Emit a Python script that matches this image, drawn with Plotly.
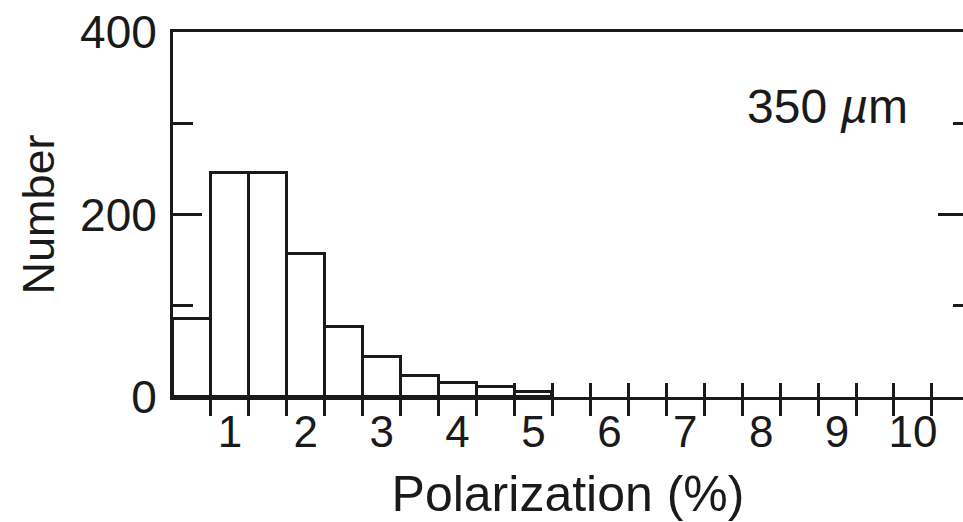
import plotly.graph_objects as go

# Histogram of polarization at 350 µm: bins of width 0.5 %, centred on 0.5, 1.0, ...
bin_centers = [0.5, 1.0, 1.5, 2.0, 2.5, 3.0, 3.5, 4.0, 4.5, 5.0]
counts = [86, 245, 245, 157, 77, 44, 23, 15, 11, 6]
bin_width = 0.5

x_tick_values = [1, 2, 3, 4, 5, 6, 7, 8, 9, 10]
x_tick_labels = ["1", "2", "3", "4", "5", "6", "7", "8", "9", "10"]
bin_edges = [0.75 + 0.5 * i for i in range(20)]

y_major = [0, 200, 400]
y_minor = [100, 300]

FONT = "Liberation Sans"
INK = "#1a1a1a"

fig = go.Figure()
fig.add_trace(go.Bar(
    x=bin_centers, y=counts, width=bin_width,
    marker=dict(color="white", line=dict(color=INK, width=3)),
    showlegend=False, hoverinfo="x+y",
))
# empty trace so the overlaid tick axes (inner x ticks, right-hand y ticks) get drawn
fig.add_trace(go.Scatter(
    x=[None], y=[None], xaxis="x2", yaxis="y2",
    mode="markers", showlegend=False, hoverinfo="skip",
))

x_range = [0.25, 10.66]

fig.update_layout(
    width=963, height=522,
    margin=dict(l=173, r=0, t=32, b=125, autoexpand=False),
    paper_bgcolor="white", plot_bgcolor="white",
    font=dict(family=FONT, size=46, color=INK),
    bargap=0,
    xaxis=dict(
        range=x_range, showgrid=False, zeroline=False, automargin=False,
        showline=True, linecolor=INK, linewidth=3, mirror=True,
        tickmode="array", tickvals=x_tick_values, ticktext=x_tick_labels,
        ticks="", ticklabelstandoff=-6,
        tickfont=dict(size=44),
        minor=dict(tickmode="array", tickvals=bin_edges, ticks="outside",
                   ticklen=16, tickwidth=2.5, tickcolor=INK),
        title=dict(text="Polarization (%)", font=dict(size=50), standoff=22),
    ),
    xaxis2=dict(
        range=x_range, overlaying="x", anchor="y", side="bottom",
        showgrid=False, zeroline=False, showline=False, automargin=False,
        tickmode="array", tickvals=bin_edges, ticks="inside",
        ticklen=14, tickwidth=2.5, tickcolor=INK, showticklabels=False,
    ),
    yaxis=dict(
        range=[0, 400], showgrid=False, zeroline=False, automargin=False,
        showline=True, linecolor=INK, linewidth=3,
        tickmode="array", tickvals=y_major, ticks="inside",
        ticklen=29, tickwidth=2.5, tickcolor=INK, ticklabelstandoff=4,
        tickfont=dict(size=46),
        minor=dict(tickmode="array", tickvals=y_minor, ticks="inside",
                   ticklen=20, tickwidth=2.5, tickcolor=INK),
        title=dict(text="Number", font=dict(size=45), standoff=12),
    ),
    yaxis2=dict(
        range=[0, 400], overlaying="y", anchor="x", side="right",
        showgrid=False, zeroline=False, showline=False, automargin=False,
        tickmode="array", tickvals=[200], ticks="inside",
        ticklen=25, tickwidth=2.5, tickcolor=INK, showticklabels=False,
        minor=dict(tickmode="array", tickvals=y_minor, ticks="inside",
                   ticklen=10, tickwidth=2.5, tickcolor=INK),
    ),
    annotations=[dict(
        text="350 <i>µ</i>m", x=0.829, y=0.795, xref="paper", yref="paper",
        xanchor="center", yanchor="middle", showarrow=False,
        font=dict(size=48, color=INK),
    )],
)

fig.write_html("out.html")
